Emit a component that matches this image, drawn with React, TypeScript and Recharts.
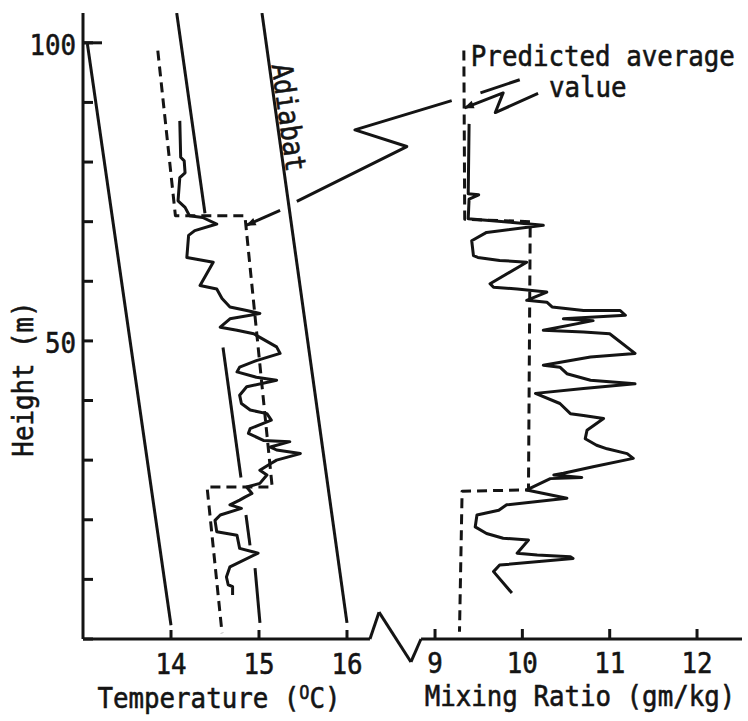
import React from 'react';
import { ComposedChart, XAxis, YAxis, Scatter, ReferenceLine, ReferenceDot, Label } from 'recharts';

const INK = '#141414';
const FONT = '"DejaVu Sans Mono", "Liberation Mono", monospace';
const FS = 29;
const SX = 0.89;
const LW = 3;
const TXT_STROKE = 0.6;

// ---- axes ----
const heightTicks = [0, 10, 20, 30, 40, 50, 60, 70, 80, 90, 100];
const labelledHeights = [50, 100];
const temperatureTicks = [14, 15, 16];
const mixingTicks = [9, 10, 11, 12];
const heightDomain = [0, 105];
const temperatureDomain = [13, 20.489];
const mixingDomain = [4.969, 12.515];

// ---- temperature panel (°C, m) ----
const measuredTemperature = [
  [14.10, 86.9], [14.11, 80.8], [14.15, 80.2], [14.16, 78.2], [14.10, 77.4], [14.08, 73.5],
  [14.16, 72.4], [14.21, 71.0], [14.36, 70.7], [14.52, 69.6], [14.27, 68.5], [14.20, 67.7],
  [14.18, 64.0], [14.48, 63.2], [14.33, 59.3], [14.52, 58.7], [14.58, 57.1], [14.67, 55.7],
  [14.86, 55.1], [15.01, 54.6], [14.67, 53.7], [14.56, 52.3], [14.75, 51.8], [14.94, 51.2],
  [15.01, 50.6], [15.20, 49.0], [15.24, 47.9], [14.97, 46.7], [14.78, 45.6], [14.75, 44.8],
  [14.97, 43.9], [15.20, 43.4], [14.86, 42.3], [14.78, 40.9], [14.80, 39.5], [14.90, 38.4],
  [15.09, 37.8], [15.14, 36.7], [14.90, 35.3], [14.88, 34.5], [15.05, 33.3], [15.35, 33.1],
  [15.13, 32.2], [15.20, 31.7], [15.47, 31.1], [15.20, 30.0], [15.13, 29.4], [15.01, 28.3],
  [15.09, 27.5], [15.01, 26.1], [14.86, 25.5], [14.92, 24.4], [14.84, 23.8], [14.78, 23.3],
  [14.67, 22.5], [14.80, 21.9], [14.56, 20.8], [14.50, 19.9], [14.52, 18.0], [14.75, 17.4],
  [14.78, 15.2], [14.99, 14.4], [14.67, 12.1], [14.63, 10.4], [14.65, 9.1], [14.70, 8.8],
  [14.70, 7.4],
];
const predictedTemperature = [
  [13.85, 98.7], [14.05, 71.0], [14.84, 71.0], [15.15, 25.5], [14.41, 25.5], [14.58, 1.0],
];
const leftReferenceLine = [[13.05, 99.8], [14.0, 2.3]];
const middleReferenceSegments = [
  [[14.065, 105], [14.386, 71.4]],
  [[14.591, 48.9], [14.795, 27.1]],
  [[14.852, 20.8], [14.898, 15.7]],
  [[14.955, 11.9], [15.011, 2.7]],
];
const adiabatLine = [[15.034, 105], [16.0, 2.7]];

// ---- mixing ratio panel (g/kg, m) ----
const measuredMixing = [
  [9.39, 86.4], [9.38, 74.7], [9.50, 74.5], [9.39, 73.8], [9.38, 70.5], [9.86, 69.9],
  [10.24, 69.4], [9.59, 68.2], [9.42, 66.8], [9.44, 64.3], [9.49, 64.0], [9.74, 63.5],
  [10.05, 63.2], [9.63, 59.6], [9.67, 59.0], [9.94, 58.7], [10.28, 58.2], [10.05, 56.8],
  [10.28, 56.5], [10.34, 55.7], [10.70, 55.1], [11.12, 55.1], [11.18, 54.3], [10.47, 53.7],
  [10.81, 53.4], [10.24, 51.8], [10.70, 51.5], [11.00, 51.2], [11.29, 47.9], [10.78, 47.3],
  [10.24, 45.9], [10.43, 45.6], [10.51, 44.5], [10.78, 43.4], [11.29, 42.8], [10.70, 42.0],
  [10.15, 41.2], [10.43, 39.5], [10.55, 37.8], [10.70, 37.5], [10.93, 37.0], [10.74, 35.0],
  [10.72, 33.6], [10.85, 32.5], [10.97, 31.9], [11.20, 31.1], [11.27, 30.3], [10.81, 28.9],
  [10.47, 27.8], [10.36, 27.5], [10.68, 27.1], [10.32, 26.9], [10.05, 25.0], [10.51, 23.6],
  [9.82, 22.5], [9.73, 21.6], [9.48, 20.8], [9.46, 18.8], [9.59, 17.7], [9.78, 16.9],
  [10.07, 16.6], [9.94, 14.4], [10.17, 14.1], [10.55, 13.8], [10.58, 13.5], [9.74, 12.4],
  [9.67, 11.3], [9.88, 7.7],
];
const predictedMixing = [
  [9.33, 98.7], [9.34, 70.4], [10.09, 70.0], [10.07, 25.0], [9.31, 24.8], [9.28, 1.2],
];

// ---- annotation leaders ----
const leaderToTemperature = [[17.19, 90.3], [16.09, 85.4], [16.68, 82.6], [15.43, 73.4]];
const leaderArrowTemperature = [[15.24, 71.9], [14.86, 69.4]];
const leaderToMixing = [[10.18, 91.5], [9.69, 88.3], [9.78, 91.6], [9.34, 89.1]];
const leaderStroke = [[9.52, 91.6], [9.97, 93.8]];

// ---- axis baseline with break ----
const temperatureBaseline = [13, 16.261];
const axisBreak = [[16.261, 0], [16.364, 4.5], [16.727, -3.85], [16.841, 0]];
const mixingBaseline = [8.84, 12.515];

const pts = (a: number[][]) => a.map(([x, y]) => ({ x, y }));

const noShape = () => <g />;

function path(key: string, data: number[][], axis: string, dashed = false, arrow = false) {
  return (
    <Scatter
      key={key}
      data={pts(data)}
      xAxisId={axis}
      yAxisId="h"
      fill={INK}
      isAnimationActive={false}
      shape={noShape}
      line={{
        stroke: INK,
        strokeWidth: LW,
        fill: 'none',
        strokeDasharray: dashed ? '10 6' : undefined,
        strokeLinejoin: 'round',
        markerEnd: arrow ? 'url(#arrowHead)' : undefined,
      }}
    />
  );
}

const txtProps = {
  fontFamily: FONT,
  fontSize: FS,
  fill: INK,
  stroke: INK,
  strokeWidth: TXT_STROKE,
};

function textShape(text: string, angle = 0, anchor = 'start') {
  return (p: any) => (
    <text transform={`translate(${p.cx},${p.cy}) rotate(${angle}) scale(${SX},1)`} textAnchor={anchor} {...txtProps}>
      {text}
    </text>
  );
}

const YTick = (props: any) => {
  const { x, y, payload } = props;
  const v = payload.value;
  return (
    <g>
      {v === 100 ? <line x1={x + 7} x2={x + 26} y1={y} y2={y} stroke={INK} strokeWidth={LW} /> : null}
      {labelledHeights.includes(v) ? (
        <text transform={`translate(${x},${y + 12}) scale(${SX},1)`} textAnchor="end" {...txtProps}>
          {v}
        </text>
      ) : null}
    </g>
  );
};

const XTick = (props: any) => {
  const { x, y, payload } = props;
  return (
    <text transform={`translate(${x},${y + 44}) scale(${SX},1)`} textAnchor="middle" {...txtProps}>
      {payload.value}
    </text>
  );
};

const HeightTitle = (props: any) => {
  const vb = props.viewBox;
  const x = vb.x + 33;
  const y = vb.y + vb.height / 2 + 53;
  return (
    <text transform={`translate(${x},${y}) rotate(-90) scale(${SX},1)`} textAnchor="middle" {...txtProps}>
      Height (m)
    </text>
  );
};

const TemperatureTitle = (props: any) => {
  const vb = props.viewBox;
  const x = vb.x + 136;
  const y = vb.y + 68;
  return (
    <text transform={`translate(${x},${y}) scale(${SX},1)`} textAnchor="middle" {...txtProps}>
      <tspan>Temperature (</tspan>
      <tspan dy={-9} fontSize={19}>O</tspan>
      <tspan dy={9}>C)</tspan>
    </text>
  );
};

const MixingTitle = (props: any) => {
  const vb = props.viewBox;
  const x = vb.x + 497;
  const y = vb.y + 67;
  return (
    <text transform={`translate(${x},${y}) scale(${SX},1)`} textAnchor="middle" {...txtProps}>
      Mixing Ratio (gm/kg)
    </text>
  );
};

export default function App() {
  return (
    <div style={{ position: 'absolute', left: 0, top: 0, width: 748, height: 721, background: '#fff' }}>
      <ComposedChart width={748} height={721} margin={{ top: 13, right: 6, bottom: 80, left: 0 }}>
        <defs>
          <marker id="arrowHead" viewBox="0 0 10 10" refX="9" refY="5" markerWidth="15" markerHeight="10" markerUnits="userSpaceOnUse" orient="auto">
            <path d="M0,1 L10,5 L0,9 z" fill={INK} />
          </marker>
        </defs>
        <XAxis
          xAxisId="t"
          dataKey="x"
          type="number"
          domain={temperatureDomain}
          allowDataOverflow
          ticks={temperatureTicks}
          height={1}
          axisLine={false}
          tickLine={{ stroke: INK, strokeWidth: LW }}
          tickSize={-10}
          tickMargin={0}
          tick={XTick}
          interval={0}
        >
          <Label content={TemperatureTitle} />
        </XAxis>
        <XAxis
          xAxisId="m"
          dataKey="x"
          type="number"
          domain={mixingDomain}
          allowDataOverflow
          ticks={mixingTicks}
          height={1}
          axisLine={false}
          tickLine={{ stroke: INK, strokeWidth: LW }}
          tickSize={-10}
          tickMargin={0}
          tick={XTick}
          interval={0}
        >
          <Label content={MixingTitle} />
        </XAxis>
        <YAxis
          yAxisId="h"
          dataKey="y"
          type="number"
          domain={heightDomain}
          allowDataOverflow
          ticks={heightTicks}
          width={83}
          axisLine={{ stroke: INK, strokeWidth: LW }}
          tickLine={{ stroke: INK, strokeWidth: LW }}
          tickSize={-10}
          tickMargin={17}
          tick={YTick}
          interval={0}
        >
          <Label content={HeightTitle} />
        </YAxis>

        <ReferenceLine
          xAxisId="t"
          yAxisId="h"
          ifOverflow="visible"
          segment={[{ x: temperatureBaseline[0], y: 0 }, { x: temperatureBaseline[1], y: 0 }]}
          stroke={INK}
          strokeWidth={LW}
        />
        {axisBreak.slice(0, -1).map((p, i) => (
          <ReferenceLine
            key={`brk${i}`}
            xAxisId="t"
            yAxisId="h"
            ifOverflow="visible"
            segment={[{ x: p[0], y: p[1] }, { x: axisBreak[i + 1][0], y: axisBreak[i + 1][1] }]}
            stroke={INK}
            strokeWidth={LW}
          />
        ))}
        <ReferenceLine
          xAxisId="m"
          yAxisId="h"
          ifOverflow="visible"
          segment={[{ x: mixingBaseline[0], y: 0 }, { x: mixingBaseline[1], y: 0 }]}
          stroke={INK}
          strokeWidth={LW}
        />

        {path('leftRef', leftReferenceLine, 't')}
        {middleReferenceSegments.map((s, i) => path(`mid${i}`, s, 't'))}
        {path('adiabat', adiabatLine, 't')}
        {path('predT', predictedTemperature, 't', true)}
        {path('measT', measuredTemperature, 't')}
        {path('predM', predictedMixing, 'm', true)}
        {path('measM', measuredMixing, 'm')}
        {path('leadT', leaderToTemperature, 't')}
        {path('leadTa', leaderArrowTemperature, 't', false, true)}
        {path('leadM', leaderToMixing, 'm', false, true)}
        {path('leadS', leaderStroke, 'm')}

        <ReferenceDot xAxisId="t" yAxisId="h" x={15.227} y={87.27} r={0} shape={textShape('Adiabat', 82, 'middle')} />
        <ReferenceDot xAxisId="m" yAxisId="h" x={9.41} y={96.15} r={0} shape={textShape('Predicted average')} />
        <ReferenceDot xAxisId="m" yAxisId="h" x={10.305} y={90.95} r={0} shape={textShape('value')} />
      </ComposedChart>
    </div>
  );
}
